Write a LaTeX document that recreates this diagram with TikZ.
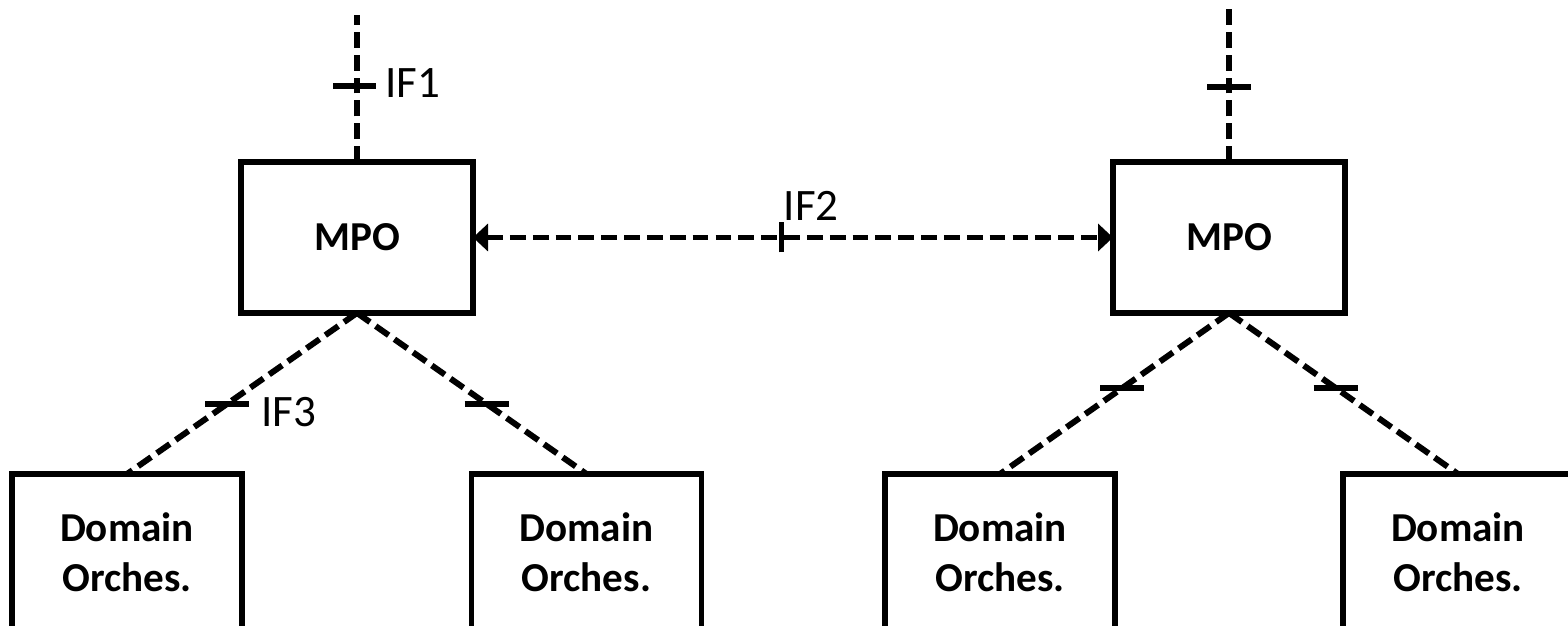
\documentclass[tikz,border=0pt]{standalone}
\usepackage{fontspec}
\setmainfont{Carlito}
\usetikzlibrary{arrows.meta}

\begin{document}
\begin{tikzpicture}[box/.style={draw, line width=3.4pt, outer sep=0pt,
  inner sep=0pt, align=center, font=\fontsize{23.4}{28.4}\selectfont\bfseries},
  link/.style={line width=3.4pt, dash pattern=on 9pt off 4pt},
  tickmark/.style={line width=3.4pt},
  iflabel/.style={inner sep=0pt, anchor=west, font=\fontsize{25.6}{30}\selectfont}]
  \useasboundingbox (0,0) rectangle (31.36,12.5);

%orchestrators
  \node[box, minimum width=4.64cm, minimum height=3.02cm] (mpoL) at (7.14,7.75) {MPO};
  \node[box, minimum width=4.64cm, minimum height=3.02cm] (mpoR) at (24.58,7.75) {MPO};

%domains
  \node[box, minimum width=4.6cm, minimum height=3.12cm] (domA) at (2.54,1.46) {Domain\\Orches.};
  \node[box, minimum width=4.6cm, minimum height=3.12cm] (domB) at (11.73,1.46) {Domain\\Orches.};
  \node[box, minimum width=4.6cm, minimum height=3.12cm] (domC) at (20.0,1.46) {Domain\\Orches.};
  \node[box, minimum width=4.6cm, minimum height=3.12cm] (domD) at (29.16,1.46) {Domain\\Orches.};

%upward interfaces
  \coordinate (upL) at (7.14,12.2);
  \coordinate (upR) at (24.58,12.34);
  \draw[link] (mpoL.north) -- coordinate[pos=0.517] (t1) (upL);
  \draw[link] (mpoR.north) -- coordinate[pos=0.49] (t1r) (upR);
  \draw[tickmark] ([xshift=-0.48cm]t1) -- ([xshift=0.38cm]t1);
  \draw[tickmark] ([xshift=-0.44cm]t1r) -- ([xshift=0.44cm]t1r);
  \node[iflabel] (if1) at ([xshift=0.56cm,yshift=0.06cm]t1) {IF1};

%peer interface
  \draw[link, {Triangle[length=0.3cm, width=0.54cm]}-{Triangle[length=0.3cm, width=0.54cm]}]
    (mpoL.east) -- coordinate[pos=0.482] (t2) (mpoR.west);
  \draw[tickmark] ([yshift=-0.3cm]t2) -- ([yshift=0.3cm]t2);
  \node[iflabel] (if2) at ([xshift=0.04cm,yshift=0.64cm]t2) {IF2};

%downward interfaces
  \draw[link] (mpoL.south) -- coordinate[pos=0.565] (t3) (domA.north);
  \draw[link] (mpoL.south) -- coordinate[pos=0.565] (t4) (domB.north);
  \draw[link] (mpoR.south) -- coordinate[pos=0.466] (t5) (domC.north);
  \draw[link] (mpoR.south) -- coordinate[pos=0.466] (t6) (domD.north);
  \foreach \t in {t3,t4,t5,t6}
    \draw[tickmark] ([xshift=-0.44cm]\t) -- ([xshift=0.44cm]\t);
  \node[iflabel] (if3) at ([xshift=0.68cm,yshift=-0.16cm]t3) {IF3};
\end{tikzpicture}
\end{document}
